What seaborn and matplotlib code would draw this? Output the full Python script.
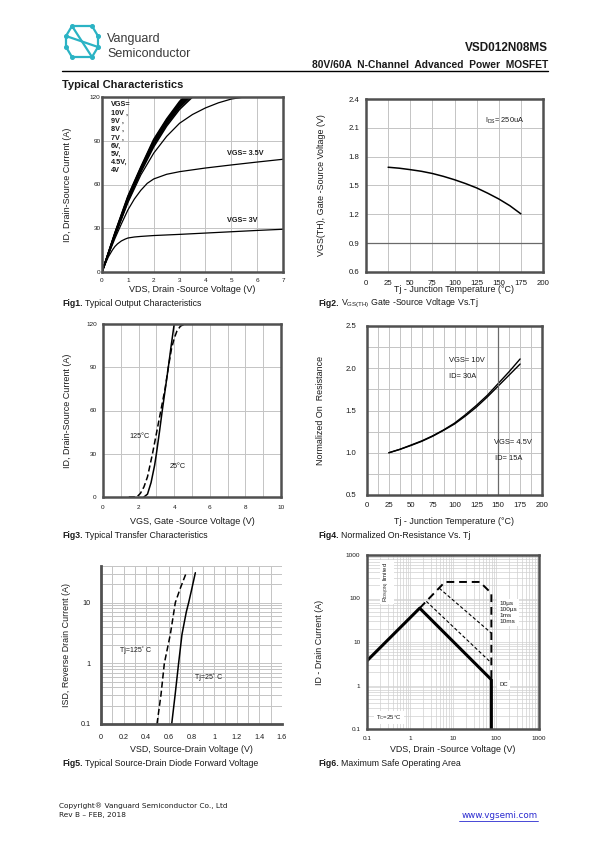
import matplotlib
matplotlib.use("Agg")
import matplotlib.pyplot as plt
import seaborn as sns
import pandas as pd
from matplotlib.ticker import MultipleLocator, FixedLocator, FixedFormatter, LogLocator, NullFormatter
from matplotlib.lines import Line2D

# ---------------- data ----------------
# Fig1 output characteristics
out_vds_band = [0, 0.5, 1.0, 1.5, 2.0, 2.5, 3.0, 3.5]
out_id_10v = [0, 27.0, 52.0, 72.0, 91.0, 105.0, 117.0, 126.0]
out_id_9v = [0, 26.6, 51.4, 71.4, 90.2, 104.3, 116.2, 125.0]
out_id_8v = [0, 26.3, 50.9, 70.9, 89.5, 103.6, 115.4, 124.0]
out_id_7v = [0, 26.0, 50.4, 70.4, 88.8, 102.9, 114.6, 123.2]
out_id_6v = [0, 25.7, 49.9, 69.9, 88.0, 102.2, 113.8, 122.3]
out_id_5v = [0, 25.3, 49.2, 69.2, 87.0, 101.2, 112.8, 121.3]
out_id_45v = [0, 25.0, 48.5, 68.4, 85.8, 100.0, 111.5, 120.0]
out_vds_4v = [0, 0.5, 1.0, 1.5, 2.0, 2.5, 3.0, 3.5, 4.0, 4.5, 5.0, 5.5, 7.0]
out_id_4v = [0, 24.5, 47.5, 66.5, 81.5, 93.0, 102.0, 108.0, 112.5, 116.0, 118.6, 120.0, 120.0]
out_vds_35v = [0, 0.25, 0.5, 0.75, 1.0, 1.25, 1.5, 1.75, 2.0, 2.5, 3.0, 4.0, 5.0, 6.0, 7.0]
out_id_35v = [0, 12.0, 23.0, 33.0, 42.5, 50.0, 56.0, 60.8, 63.8, 67.0, 68.8, 71.3, 73.4, 75.4, 77.3]
out_vds_3v = [0, 0.1, 0.25, 0.4, 0.5, 0.6, 0.75, 0.9, 1.0, 1.25, 1.5, 2.0, 3.0, 4.0, 5.0, 6.0, 7.0]
out_id_3v = [0, 4.5, 10.5, 15.0, 17.5, 19.3, 21.3, 22.6, 23.3, 24.0, 24.4, 25.0, 25.8, 26.7, 27.6, 28.5, 29.3]
out_xticks = [0, 1, 2, 3, 4, 5, 6, 7]
out_yticks = [0, 30, 60, 90, 120]

# Fig2 threshold voltage vs Tj
vth_tj = [25, 37.5, 50, 62.5, 75, 87.5, 100, 112.5, 125, 137.5, 150, 162.5, 175]
vth_v = [1.69, 1.68, 1.665, 1.648, 1.625, 1.595, 1.56, 1.52, 1.475, 1.42, 1.36, 1.29, 1.205]
vth_xticks = [0, 25, 50, 75, 100, 125, 150, 175, 200]
vth_yticks = [0.6, 0.9, 1.2, 1.5, 1.8, 2.1, 2.4]

# Fig3 transfer characteristics
tr_vgs_25 = [2.3, 2.5, 2.7, 2.9, 3.0, 3.17, 3.33, 3.5, 3.67, 3.83, 4.0]
tr_id_25 = [0, 2, 10, 22, 30, 45, 60, 75, 90, 105, 120]
tr_vgs_125 = [1.45, 1.9, 2.1, 2.3, 2.5, 2.78, 3.0, 3.25, 3.5, 3.67, 3.85, 4.0, 4.15, 4.35, 4.6]
tr_id_125 = [0, 0, 2.5, 7, 14, 30, 44, 60, 76, 90, 103, 110, 115, 118.5, 120]
tr_xticks = [0, 2, 4, 6, 8, 10]
tr_yticks = [0, 30, 60, 90, 120]

# Fig4 normalized on-resistance vs Tj
rn_tj = [25, 37.5, 50, 62.5, 75, 87.5, 100, 112.5, 125, 137.5, 150, 162.5, 175]
rn_10v = [1.0, 1.04, 1.09, 1.14, 1.2, 1.27, 1.35, 1.45, 1.56, 1.68, 1.82, 1.96, 2.11]
rn_45v = [1.0, 1.04, 1.085, 1.135, 1.195, 1.265, 1.34, 1.435, 1.54, 1.66, 1.79, 1.92, 2.05]
rn_xticks = [0, 25, 50, 75, 100, 125, 150, 175, 200]
rn_yticks = [0.5, 1.0, 1.5, 2.0, 2.5]

# Fig5 source-drain diode forward voltage
sd_vsd_25 = [0.625, 0.655, 0.686, 0.716, 0.754, 0.775, 0.80, 0.834]
sd_isd_25 = [0.1, 0.3, 1.0, 3.0, 7.0, 10.0, 16.0, 31.0]
sd_vsd_125 = [0.495, 0.53, 0.56, 0.613, 0.657, 0.70, 0.754]
sd_isd_125 = [0.1, 0.3, 1.0, 3.0, 10.0, 17.0, 31.0]
sd_xticks = [0, 0.2, 0.4, 0.6, 0.8, 1.0, 1.2, 1.4, 1.6]
sd_xlabels = ["0", "0.2", "0.4", "0.6", "0.8", "1", "1.2", "1.4", "1.6"]
sd_yticks = [0.1, 1, 10]
sd_ylabels = ["0.1", "1", "10"]

# Fig6 safe operating area
soa_dc_v = [0.1, 1.68, 78, 78]
soa_dc_i = [3.7, 60, 1.36, 0.1]
soa_10us_v = [1.68, 6.5, 42, 78, 78]
soa_10us_i = [60, 240, 240, 132, 1.36]
soa_100us_v = [4.8, 78]
soa_100us_i = [172, 16]
soa_1ms_v = [2.4, 78]
soa_1ms_i = [86, 3.3]
soa_ticks = [0.1, 1, 10, 100, 1000]
soa_labels = ["0.1", "1", "10", "100", "1000"]

# ---------------- style ----------------
sns.set_theme(style="white")
plt.rcParams['font.family'] = ['Liberation Sans', 'DejaVu Sans']
NARROW = ['Liberation Sans Narrow', 'Liberation Sans', 'DejaVu Sans']
W, H = 595, 842
SPINE = '#505050'
GRID = '#c4c4c4'
TXT = '#1a1a1a'

fig = plt.figure(figsize=(W / 100, H / 100), dpi=100)


def add_ax(l, t, r, b):
    return fig.add_axes([l / W, 1 - b / H, (r - l) / W, (b - t) / H])


def frame(ax, sides=('left', 'right', 'top', 'bottom'), lw=1.8):
    for s, sp in ax.spines.items():
        if s in sides:
            sp.set_visible(True)
            sp.set_color(SPINE)
            sp.set_linewidth(lw)
        else:
            sp.set_visible(False)
    ax.set_facecolor('white')


def place_labels(ax, xlabel, ylabel, xl_py, yl_px, size=6.5):
    pos = ax.get_position()
    ax.set_xlabel(xlabel, fontsize=size, color=TXT)
    ax.set_ylabel(ylabel, fontsize=size, color=TXT)
    ax.xaxis.set_label_coords(0.5, ((1 - xl_py / H) - pos.y0) / pos.height)
    ax.yaxis.set_label_coords((yl_px / W - pos.x0) / pos.width, 0.5)
    ax.xaxis.label.set_va('center')
    ax.yaxis.label.set_va('center')


def ticks(ax, size, xpad, ypad, fam=NARROW):
    ax.tick_params(axis='both', which='both', length=0, labelsize=size, colors=TXT)
    ax.tick_params(axis='x', pad=xpad)
    ax.tick_params(axis='y', pad=ypad)
    for lab in ax.get_xticklabels() + ax.get_yticklabels():
        lab.set_family(fam)


def line(ax, x, y, lw=1.0, ls='-', color='black'):
    df = pd.DataFrame({'x': x, 'y': y})
    sns.lineplot(data=df, x='x', y='y', ax=ax, color=color, linewidth=lw,
                 linestyle=ls, estimator=None, sort=False, legend=False)


def caption(x, y, num, rest, size=6.3):
    t = fig.text(x / W, 1 - y / H, num, fontsize=size, fontweight='bold', color=TXT, va='center')
    r = fig.canvas.get_renderer()
    bb = t.get_window_extent(renderer=r)
    fig.text((bb.x1 + 2) / W, 1 - y / H, rest, fontsize=size, color=TXT, va='center')


# ---------------- header ----------------
teal = '#2bb3c4'
logo_pts = {
    'A': (72, 26), 'B': (92, 26), 'C': (66, 36), 'D': (98, 36),
    'E': (66, 47), 'F': (98, 47), 'G': (72, 57), 'H': (92, 57),
}
logo_edges = [('A', 'B'), ('A', 'C'), ('B', 'D'), ('C', 'E'), ('D', 'F'),
              ('E', 'G'), ('F', 'H'), ('G', 'H'), ('A', 'H'), ('C', 'F')]
for a, b in logo_edges:
    (x0, y0), (x1, y1) = logo_pts[a], logo_pts[b]
    fig.add_artist(Line2D([x0 / W, x1 / W], [1 - y0 / H, 1 - y1 / H], color=teal, lw=1.6,
                          transform=fig.transFigure))
for k, (x0, y0) in logo_pts.items():
    fig.add_artist(Line2D([x0 / W], [1 - y0 / H], marker='o', ms=2.6, color=teal,
                          transform=fig.transFigure))
fig.text(107 / W, 1 - 39 / H, 'Vanguard', fontsize=9, color='#3a3a3a', va='center')
fig.text(107 / W, 1 - 54 / H, 'Semiconductor', fontsize=9, color='#3a3a3a', va='center')
fig.text(548 / W, 1 - 48 / H, 'VSD012N08MS', fontsize=8.5, fontweight='bold', color=TXT,
         ha='right', va='center')
fig.text(548 / W, 1 - 64.5 / H, '80V/60A  N-Channel  Advanced  Power  MOSFET', fontsize=7.4,
         fontweight='bold', color=TXT, ha='right', va='center')
fig.add_artist(Line2D([62 / W, 548 / W], [1 - 71 / H, 1 - 71 / H], color='black', lw=1.0,
                      transform=fig.transFigure))
fig.text(62 / W, 1 - 85 / H, 'Typical Characteristics', fontsize=8, fontweight='bold',
         color=TXT, va='center')

# ---------------- Fig1 ----------------
ax1 = add_ax(102, 97, 283, 272)
for ids in [out_id_10v, out_id_9v, out_id_8v, out_id_7v, out_id_6v, out_id_5v, out_id_45v]:
    line(ax1, out_vds_band, ids, lw=1.1)
line(ax1, out_vds_4v, out_id_4v, lw=0.9)
line(ax1, out_vds_35v, out_id_35v, lw=0.9)
line(ax1, out_vds_3v, out_id_3v, lw=0.9)
ax1.set_xlim(0, 7)
ax1.set_ylim(0, 120)
ax1.xaxis.set_major_locator(FixedLocator(out_xticks))
ax1.yaxis.set_major_locator(FixedLocator(out_yticks))
ax1.grid(True, color=GRID, lw=0.7)
frame(ax1)
ticks(ax1, 4.6, 4.0, 1.0)
place_labels(ax1, 'VDS, Drain -Source Voltage (V)', 'ID, Drain-Source Current (A)', 289.5, 68)
ax1.text(0.33, 117, 'VGS=\n10V ,\n9V ,\n8V ,\n7V ,\n6V,\n5V,\n4.5V,\n4V', fontsize=5.2,
         fontweight='bold', family=NARROW, va='top', ha='left', linespacing=1.25, color=TXT)
ax1.text(4.85, 81.5, 'VGS= 3.5V', fontsize=5.2, fontweight='bold', family=NARROW,
         va='center', ha='left', color=TXT)
ax1.text(4.85, 35, 'VGS= 3V', fontsize=5.2, fontweight='bold', family=NARROW,
         va='center', ha='left', color=TXT)
caption(62, 303, 'Fig1.', 'Typical Output Characteristics')

# ---------------- Fig2 ----------------
ax2 = add_ax(366, 99, 543, 272)
line(ax2, vth_tj, vth_v, lw=1.1)
ax2.set_xlim(0, 200)
ax2.set_ylim(0.6, 2.4)
ax2.xaxis.set_major_locator(FixedLocator(vth_xticks))
ax2.yaxis.set_major_locator(FixedLocator(vth_yticks))
ax2.yaxis.set_major_formatter(FixedFormatter([f'{v:.1f}' for v in vth_yticks]))
ax2.grid(True, color=GRID, lw=0.7)
ax2.axhline(0.9, color='#6a6a6a', lw=0.9)
frame(ax2)
ticks(ax2, 5.6, 5.5, 5.0)
place_labels(ax2, 'Tj - Junction Temperature (\u00b0C)', 'VGS(TH), Gate -Source Voltage (V)', 290, 321.5,
             size=6.4)
ax2.text(135, 2.167, 'I$_\\mathregular{DS}$= 250uA', fontsize=5.3, family=NARROW,
         va='center', ha='left', color=TXT)
caption(318, 303, 'Fig2.', 'V$_\\mathregular{GS(TH)}$ Gate -Source Voltage Vs.Tj')

# ---------------- Fig3 ----------------
ax3 = add_ax(103, 324, 281, 497)
line(ax3, tr_vgs_25, tr_id_25, lw=1.1)
line(ax3, tr_vgs_125, tr_id_125, lw=1.1, ls=(0, (4, 2)))
ax3.set_xlim(0, 10)
ax3.set_ylim(0, 120)
ax3.xaxis.set_major_locator(FixedLocator(tr_xticks))
ax3.xaxis.set_minor_locator(MultipleLocator(1))
ax3.yaxis.set_major_locator(FixedLocator(tr_yticks))
ax3.grid(True, which='both', color=GRID, lw=0.7)
frame(ax3)
ticks(ax3, 4.6, 5.5, 4.5)
place_labels(ax3, 'VGS, Gate -Source Voltage (V)', 'ID, Drain-Source Current (A)', 521.5, 68)
ax3.text(2.05, 41.8, '125\u00b0C', fontsize=5.2, family=NARROW, va='center', ha='center', color=TXT)
ax3.text(3.75, 20.9, '25\u00b0C', fontsize=5.2, family=NARROW, va='center', ha='left', color=TXT)
caption(62, 536, 'Fig3.', 'Typical Transfer Characteristics')

# ---------------- Fig4 ----------------
ax4 = add_ax(367, 326, 542, 495)
line(ax4, rn_tj, rn_10v, lw=1.0)
line(ax4, rn_tj, rn_45v, lw=1.0)
ax4.set_xlim(0, 200)
ax4.set_ylim(0.5, 2.5)
ax4.xaxis.set_major_locator(FixedLocator(rn_xticks))
ax4.xaxis.set_minor_locator(MultipleLocator(12.5))
ax4.yaxis.set_major_locator(FixedLocator(rn_yticks))
ax4.yaxis.set_minor_locator(MultipleLocator(0.25))
ax4.yaxis.set_major_formatter(FixedFormatter([f'{v:.1f}' for v in rn_yticks]))
ax4.grid(True, which='both', color=GRID, lw=0.7)
ax4.axvline(150, color='#6a6a6a', lw=0.9)
frame(ax4)
ticks(ax4, 5.6, 5.0, 7.5)
place_labels(ax4, 'Tj - Junction Temperature (\u00b0C)', 'Normalized On  Resistance', 521.5, 320.5,
             size=6.4)
ax4.text(94, 2.09, 'VGS= 10V', fontsize=5.4, family=NARROW, va='center', ha='left', color=TXT)
ax4.text(94, 1.9, 'ID= 30A', fontsize=5.4, family=NARROW, va='center', ha='left', color=TXT)
ax4.text(145, 1.12, 'VGS= 4.5V', fontsize=5.4, family=NARROW, va='center', ha='left', color=TXT)
ax4.text(146, 0.93, 'ID= 15A', fontsize=5.4, family=NARROW, va='center', ha='left', color=TXT)
caption(318, 536, 'Fig4.', 'Normalized On-Resistance Vs. Tj')

# ---------------- Fig5 ----------------
ax5 = add_ax(101, 566, 282, 724)
ax5.set_yscale('log')
line(ax5, sd_vsd_25, sd_isd_25, lw=1.1)
line(ax5, sd_vsd_125, sd_isd_125, lw=1.1, ls=(0, (4, 2)))
ax5.set_xlim(0, 1.6)
ax5.set_ylim(0.1, 40)
ax5.xaxis.set_major_locator(FixedLocator(sd_xticks))
ax5.xaxis.set_major_formatter(FixedFormatter(sd_xlabels))
ax5.xaxis.set_minor_locator(MultipleLocator(0.1))
ax5.yaxis.set_major_locator(FixedLocator(sd_yticks))
ax5.yaxis.set_major_formatter(FixedFormatter(sd_ylabels))
ax5.yaxis.set_minor_locator(LogLocator(base=10, subs=range(2, 10)))
ax5.yaxis.set_minor_formatter(NullFormatter())
ax5.grid(True, which='both', color=GRID, lw=0.7)
frame(ax5, sides=('left', 'bottom'), lw=2.0)
ticks(ax5, 5.2, 7.0, 7.5)
place_labels(ax5, 'VSD, Source-Drain Voltage (V)', 'ISD, Reverse Drain Current (A)', 749.5, 66.5,
             size=6.4)
ax5.text(0.165, 1.65, 'Tj=125\u02da C', fontsize=5.0, family=NARROW, va='center', ha='left', color=TXT)
ax5.text(0.83, 0.59, 'Tj=25\u02da C', fontsize=5.0, family=NARROW, va='center', ha='left', color=TXT)
caption(62, 764, 'Fig5.', 'Typical Source-Drain Diode Forward Voltage')

# ---------------- Fig6 ----------------
ax6 = add_ax(367, 555, 539, 729)
ax6.set_xscale('log')
ax6.set_yscale('log')
line(ax6, soa_dc_v, soa_dc_i, lw=2.2)
line(ax6, soa_10us_v, soa_10us_i, lw=1.4, ls=(0, (4, 2.5)))
line(ax6, soa_100us_v, soa_100us_i, lw=0.8, ls=(0, (3, 2)))
line(ax6, soa_1ms_v, soa_1ms_i, lw=0.8, ls=(0, (3, 2)))
ax6.set_xlim(0.1, 1000)
ax6.set_ylim(0.1, 1000)
for axis in (ax6.xaxis, ax6.yaxis):
    axis.set_major_locator(FixedLocator(soa_ticks))
    axis.set_major_formatter(FixedFormatter(soa_labels))
    axis.set_minor_locator(LogLocator(base=10, subs=range(2, 10)))
    axis.set_minor_formatter(NullFormatter())
ax6.grid(True, which='both', color='#d0d0d0', lw=0.5)
frame(ax6)
ticks(ax6, 4.6, 4.8, 4.8)
place_labels(ax6, 'VDS, Drain -Source Voltage (V)', 'ID - Drain Current (A)', 749, 320, size=6.4)
wb = dict(facecolor='white', edgecolor='none', pad=1.5)
ax6.text(0.29, 240, 'R$_\\mathregular{DS(ON)}$ limited', rotation=90, fontsize=4.3, family=NARROW,
         va='center', ha='center', color=TXT, bbox=wb)
ax6.text(118, 48, '10\u00b5s\n100\u00b5s\n1ms\n10ms', fontsize=4.6, family=NARROW,
         va='center', ha='left', color=TXT, linespacing=1.2, bbox=wb)
ax6.text(120, 1.04, 'DC', fontsize=4.3, family=NARROW, va='center', ha='left', color=TXT, bbox=wb)
ax6.text(0.165, 0.18, 'T$_\\mathregular{C}$=25\u00b0C', fontsize=4.3, family=NARROW,
         va='center', ha='left', color=TXT, bbox=wb)
caption(318, 764, 'Fig6.', 'Maximum Safe Operating Area')

# ---------------- footer ----------------
fig.text(59 / W, 1 - 805.5 / H, 'Copyright\u00ae Vanguard Semiconductor Co., Ltd', fontsize=5.3,
         family=['DejaVu Sans'], color=TXT, va='center')
fig.text(59 / W, 1 - 815.5 / H, 'Rev B \u2013 FEB, 2018', fontsize=5.3, family=['DejaVu Sans'],
         color=TXT, va='center')
fig.text(538 / W, 1 - 815.5 / H, 'www.vgsemi.com', fontsize=6.3, family=['DejaVu Sans'],
         color='#2a2ad0', va='center', ha='right')
fig.add_artist(Line2D([459 / W, 538 / W], [1 - 820.5 / H, 1 - 820.5 / H], color='#2a2ad0', lw=0.6,
                      transform=fig.transFigure))

fig.savefig('out.png', dpi=100, facecolor='white')
